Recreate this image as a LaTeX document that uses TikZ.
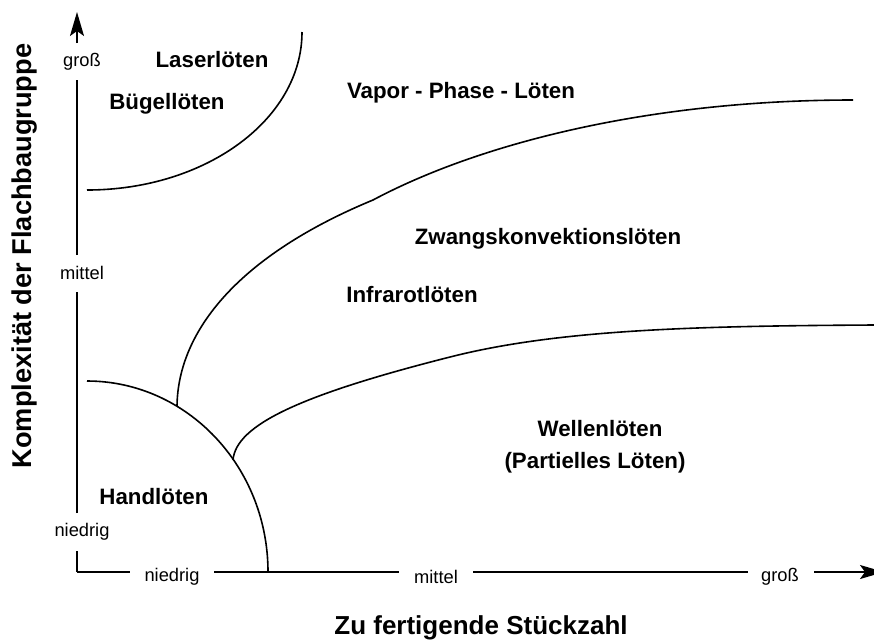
\documentclass[tikz,border=0pt]{standalone}
\usepackage{fontspec}
\setmainfont{Liberation Sans}
\usetikzlibrary{arrows.meta}
\begin{document}
\begin{tikzpicture}[x=1pt,y=-1pt,
  ln/.style={line width=1.6pt},
  region/.style={font=\fontsize{22.3}{26}\selectfont\bfseries, inner sep=0pt},
  title/.style={font=\fontsize{26}{30}\selectfont\bfseries, inner sep=0pt},
  tick/.style={font=\fontsize{18.3}{21}\selectfont, inner sep=0pt},
  tip/.style={-{Stealth[length=24pt,width=14pt,inset=5pt]}}]
\clip (0,0) rectangle (874,641);
% axes coordinates
\coordinate (O) at (77,572);
\coordinate (v1) at (77,551);
\coordinate (v2) at (77,513);
\coordinate (v3) at (77,292);
\coordinate (v4) at (77,255);
\coordinate (v5) at (77,80);
\coordinate (v6) at (77,43);
\coordinate (vt) at (77,12);
\coordinate (h1) at (130,572);
\coordinate (h2) at (214,572);
\coordinate (h3) at (399,572);
\coordinate (h4) at (473,572);
\coordinate (h5) at (748,572);
\coordinate (h6) at (814,572);
\coordinate (ht) at (884,572);
% axis labels
\node[tick] (yn) at (82,532) {niedrig};
\node[tick] (ym) at (82,273) {mittel};
\node[tick] (yg) at (82,62) {groß};
\node[tick] (xn) at (172,577) {niedrig};
\node[tick] (xm) at (436,577) {mittel};
\node[tick] (xg) at (780,577) {groß};
% axes
\draw[ln] (O) -- (v1);
\draw[ln] (v2) -- (v3);
\draw[ln] (v4) -- (v5);
\draw[ln,tip] (v6) -- (vt);
\draw[ln] (O) -- (h1);
\draw[ln] (h2) -- (h3);
\draw[ln] (h4) -- (h5);
\draw[ln,tip] (h6) -- (ht);
% titles
\node[title, font=\fontsize{27.2}{31}\selectfont\bfseries, rotate=90] (ytitle) at (25,256) {Komplexität der Flachbaugruppe};
\node[title] (xtitle) at (481,628) {Zu fertigende Stückzahl};
% boundary curves
\draw[ln] (87,190) arc[start angle=90, end angle=0, x radius=215, y radius=158];
\draw[ln] (87,381) arc[start angle=-90, end angle=0, x radius=181, y radius=191];
\draw[ln] (177,406) .. controls (178,330) and (240,255) .. (373,200)
                    .. controls (480,143) and (650,100) .. (853,100);
\draw[ln] (233,460) .. controls (236,425) and (300,395) .. (450,357)
                    .. controls (560,329) and (700,326) .. (874,325);
% region labels
\node[region] (laser) at (212,60) {Laserlöten};
\node[region] (buegel) at (167,104) {Bügellöten};
\node[region] (vapor) at (461,93) {Vapor - Phase - Löten};
\node[region] (zwang) at (548,239) {Zwangskonvektionslöten};
\node[region] (infra) at (412,295) {Infrarotlöten};
\node[region] (wellen) at (600,429) {Wellenlöten};
\node[region] (partiell) at (595,463) {(Partielles Löten)};
\node[region] (hand) at (154,497) {Handlöten};
\end{tikzpicture}
\end{document}
